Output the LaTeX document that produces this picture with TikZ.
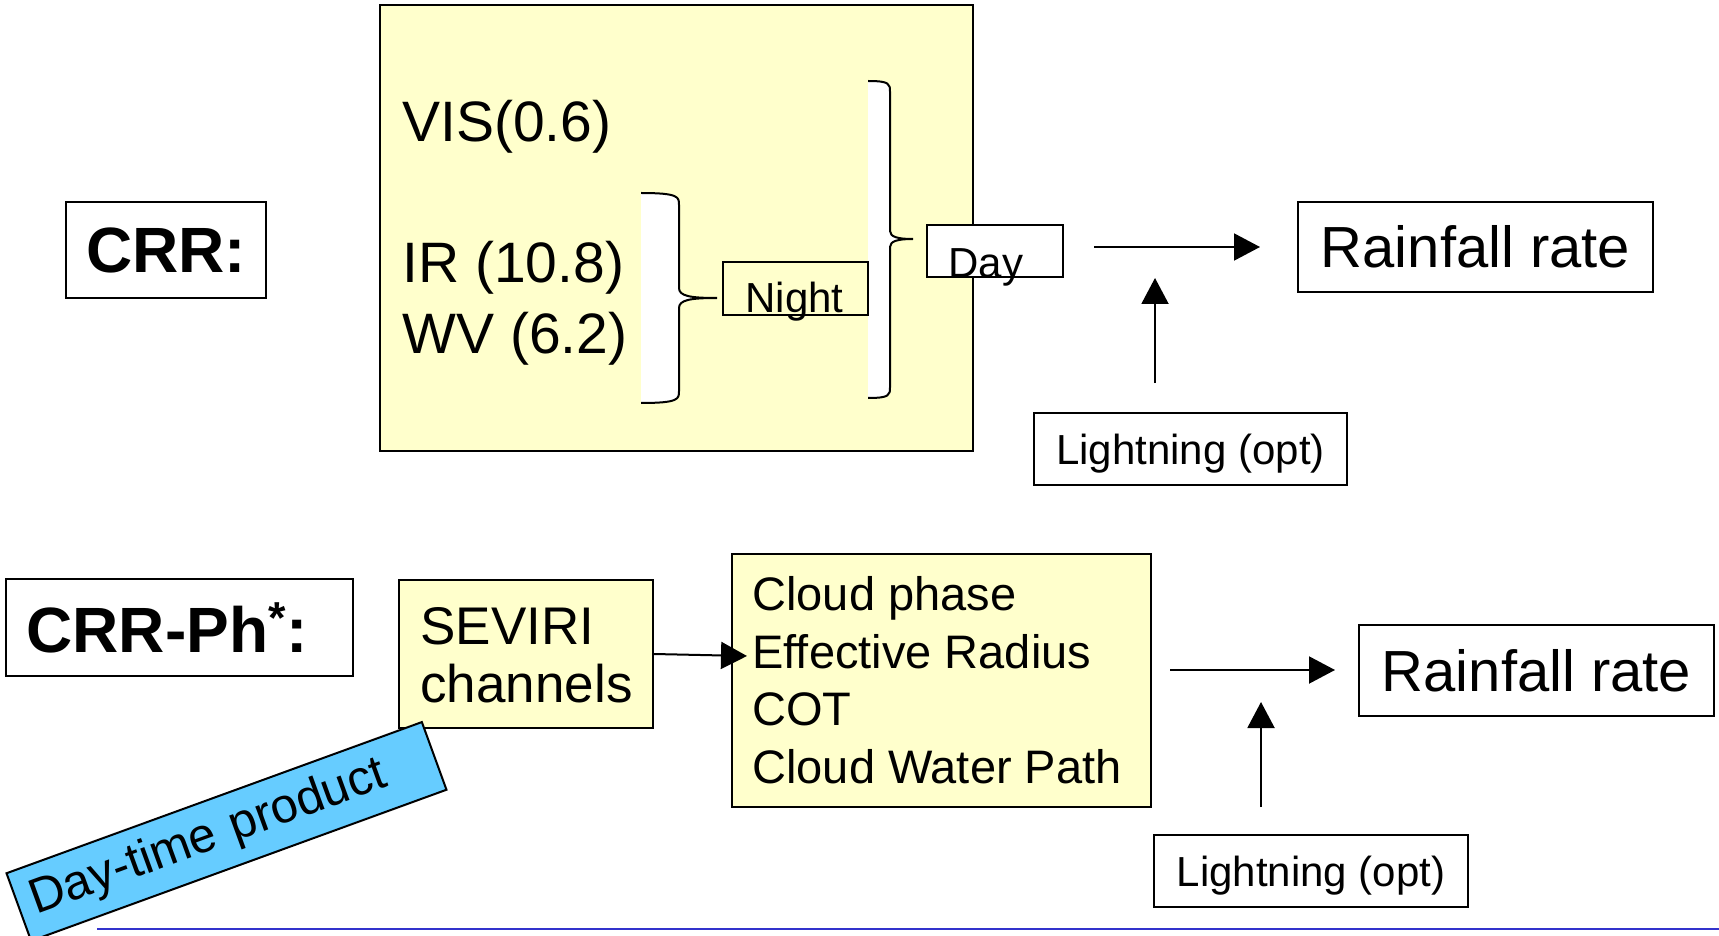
\documentclass[tikz,border=0pt]{standalone}
\usepackage{fontspec}
\setmainfont{Liberation Sans}
\usetikzlibrary{arrows.meta,positioning}
\definecolor{paleyellow}{RGB}{255,255,204}
\definecolor{skyblue}{RGB}{102,204,255}
\definecolor{lineblue}{RGB}{51,51,204}

\begin{document}
\begin{tikzpicture}[x=0.5pt, y=-0.5pt,
    box/.style={rectangle, draw=black, line width=1pt, inner sep=0pt},
    panel/.style={box, fill=paleyellow},
    txt/.style={anchor=base west, inner sep=0pt},
    brace/.style={draw=black, fill=white, line width=1pt},
    arrow/.style={-{Triangle[length=13pt, width=13.5pt]}, line width=1pt},
    bold/.style={font=\fontsize{32}{38}\selectfont\bfseries},
    chan/.style={font=\fontsize{28.5}{34}\selectfont},
    rain/.style={font=\fontsize{29}{34}\selectfont},
    small/.style={font=\fontsize{21}{25}\selectfont},
    prop/.style={font=\fontsize{23.5}{28}\selectfont},
    sev/.style={font=\fontsize{26.5}{32}\selectfont}
]
    \useasboundingbox (0,0) rectangle (1719,936);

    % CRR
    \node[box, bold, minimum width=100pt, minimum height=48pt] (crrlabel) at (166,250) {CRR:};
    \node[panel, minimum width=296.5pt, minimum height=223pt] (crr) at (676.5,228) {};
    \node[txt, chan] (vis) at (402,142) {VIS(0.6)};
    \node[txt, chan] (ir) at (402,283) {IR (10.8)};
    \node[txt, chan] (wv) at (402,353) {WV (6.2)};

    \draw[brace] (641,193) .. controls (679,193) and (679,197) .. (679,205) -- (679,288)
        .. controls (679,296) and (690,298) .. (717,298) .. controls (690,298) and (679,300) .. (679,308)
        -- (679,391) .. controls (679,399) and (679,403) .. (641,403);
    \draw[brace] (868,81) .. controls (890,81) and (890,84) .. (890,92) -- (890,231)
        .. controls (890,237) and (898,239) .. (913,239) .. controls (898,239) and (890,241) .. (890,247)
        -- (890,387) .. controls (890,395) and (890,398) .. (868,398);

    \node[box, minimum width=72.5pt, minimum height=26.5pt] (night) at (795.5,288.5) {};
    \node[txt, small] (nighttext) at (745,313) {Night};
    \node[box, fill=white, minimum width=68pt, minimum height=26pt] (day) at (995,251) {};
    \node[txt, small] (daytext) at (948,278) {Day};

    \node[box, rain, minimum width=177.5pt, minimum height=45pt] (rain) at (1475.5,247) {Rainfall rate};
    \node[box, small, text depth=0pt, minimum width=156.5pt, minimum height=36pt] (light) at (1190.5,449) {Lightning (opt)};

    \coordinate (dayout) at (1094,247);
    \coordinate (rainin) at (1260,247);
    \coordinate (lightout) at (1155,383);
    \coordinate (lightin) at (1155,278);
    \draw[arrow] (dayout) -- (rainin);
    \draw[arrow] (lightout) -- (lightin);

    % CRR-Ph
    \node[box, minimum width=173.5pt, minimum height=48.5pt] (phlabel) at (179.5,627.5) {};
    \node[txt, bold] (phtext) at (26,652) {CRR-Ph\textsuperscript{*}:};

    \node[panel, minimum width=127pt, minimum height=74pt] (sev) at (526,654) {};
    \node[txt, sev] (sevone) at (420,644) {SEVIRI};
    \node[txt, sev] (sevtwo) at (420,702) {channels};

    \node[panel, minimum width=209.5pt, minimum height=126.5pt] (cloud) at (941.5,680.5) {};
    \node[txt, prop] (phase) at (752,610) {Cloud phase};
    \node[txt, prop] (radius) at (752,668) {Effective Radius};
    \node[txt, prop] (cot) at (752,725) {COT};
    \node[txt, prop] (cwp) at (752,783) {Cloud Water Path};

    \coordinate (cloudin) at (747,656);
    \draw[arrow] (sev.east) -- (cloudin);

    \node[box, fill=skyblue, rotate=20, minimum width=221pt, minimum height=36pt,
        text width=207pt, inner xsep=7pt, inner ysep=6pt, align=left, font=\fontsize{24.5}{28}\selectfont] (daytime) at (226.5,831.5) {Day-time product};

    \node[box, rain, minimum width=177.5pt, minimum height=45.5pt] (rainph) at (1536.5,670.5) {Rainfall rate};
    \node[box, small, text depth=0pt, minimum width=157pt, minimum height=36pt] (lightph) at (1311,871) {Lightning (opt)};

    \coordinate (cloudout) at (1170,670);
    \coordinate (rainphin) at (1335,670);
    \coordinate (lightphout) at (1261,807);
    \coordinate (lightphin) at (1261,702);
    \draw[arrow] (cloudout) -- (rainphin);
    \draw[arrow] (lightphout) -- (lightphin);

    \draw[lineblue, line width=1.2pt] (97,929) -- (1719,929);
\end{tikzpicture}
\end{document}
